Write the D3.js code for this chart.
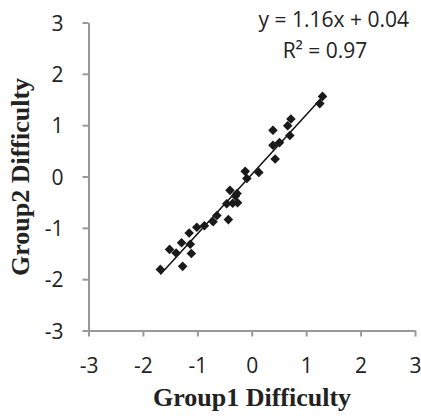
<!DOCTYPE html>
<html><head><meta charset="utf-8">
<script src="https://cdn.jsdelivr.net/npm/d3@7"></script>
<style>body{margin:0;background:#fff}svg{display:block}</style>
</head><body>
<svg id="c" width="421" height="420"></svg>
<script>
const group1 = [-1.68,-1.51,-1.39,-1.29,-1.27,-1.15,-1.13,-1.11,-1.01,-0.87,-0.71,-0.64,-0.46,-0.43,-0.40,-0.35,-0.30,-0.27,-0.26,-0.12,-0.09,0.13,0.39,0.39,0.43,0.51,0.66,0.72,0.70,1.25,1.30];
const group2 = [-1.81,-1.42,-1.49,-1.29,-1.75,-1.10,-1.32,-1.50,-0.99,-0.96,-0.88,-0.76,-0.53,-0.84,-0.27,-0.52,-0.38,-0.33,-0.51,0.10,-0.04,0.08,0.90,0.61,0.34,0.66,0.99,1.12,0.80,1.42,1.56];
const tickValues = [-3,-2,-1,0,1,2,3];
const slope = 1.16, intercept = 0.04;
const eqLabel = "y = 1.16x + 0.04";
const r2Label = "R² = 0.97";
const xTitle = "Group1 Difficulty";
const yTitle = "Group2 Difficulty";

const svg = d3.select("#c");
const x = d3.scaleLinear().domain([-3,3]).range([88.5,415]);
const y = d3.scaleLinear().domain([-3,3]).range([330.5,22.5]);
const axisColor = "#999";
const tickFont = "Open Sans, sans-serif";
const fmt = d => String(d);

const xa = svg.append("g").attr("transform",`translate(0,${y(-3)})`)
  .call(d3.axisBottom(x).tickValues(tickValues).tickSize(6).tickSizeOuter(0).tickFormat(fmt));
const ya = svg.append("g").attr("transform",`translate(${x(-3)},0)`)
  .call(d3.axisLeft(y).tickValues(tickValues).tickSize(6).tickSizeOuter(0).tickPadding(19).tickFormat(fmt));
[xa,ya].forEach(g=>{
  g.select(".domain").attr("stroke",axisColor).attr("stroke-width",2);
  g.selectAll(".tick line").attr("stroke",axisColor).attr("stroke-width",2);
  g.selectAll(".tick text").attr("fill","#222").style("font-family",tickFont).style("font-size","21px");
});
xa.selectAll(".tick text").attr("y",42).attr("dy",0);
ya.selectAll(".tick text").attr("dy","0.36em");

const xs = d3.extent(group1);
svg.append("line")
  .attr("x1",x(xs[0])).attr("y1",y(slope*xs[0]+intercept))
  .attr("x2",x(xs[1])).attr("y2",y(slope*xs[1]+intercept))
  .attr("stroke","#111").attr("stroke-width",1.5);

const sym = d3.symbol().type(d3.symbolSquare).size(46);
svg.append("g").selectAll("path").data(group1.map((v,i)=>[v,group2[i]])).join("path")
  .attr("d",sym)
  .attr("transform",d=>`translate(${x(d[0])},${y(d[1])}) rotate(45)`)
  .attr("fill","#1a1a1a");

svg.append("text").attr("x",409).attr("y",27).attr("text-anchor","end")
  .style("font-family",tickFont).style("font-size","21px").attr("fill","#222").text(eqLabel);
svg.append("text").attr("x",325).attr("y",58).attr("text-anchor","middle")
  .style("font-family",tickFont).style("font-size","21px").attr("fill","#222").text(r2Label);

svg.append("text").attr("x",252).attr("y",406).attr("text-anchor","middle")
  .style("font-family","Liberation Serif, serif").style("font-weight","bold").style("font-size","26px").attr("fill","#222").text(xTitle);
svg.append("text").attr("transform","translate(29,177) rotate(-90)").attr("text-anchor","middle")
  .style("font-family","Liberation Serif, serif").style("font-weight","bold").style("font-size","26px").attr("fill","#222").text(yTitle);
</script>
</body></html>
